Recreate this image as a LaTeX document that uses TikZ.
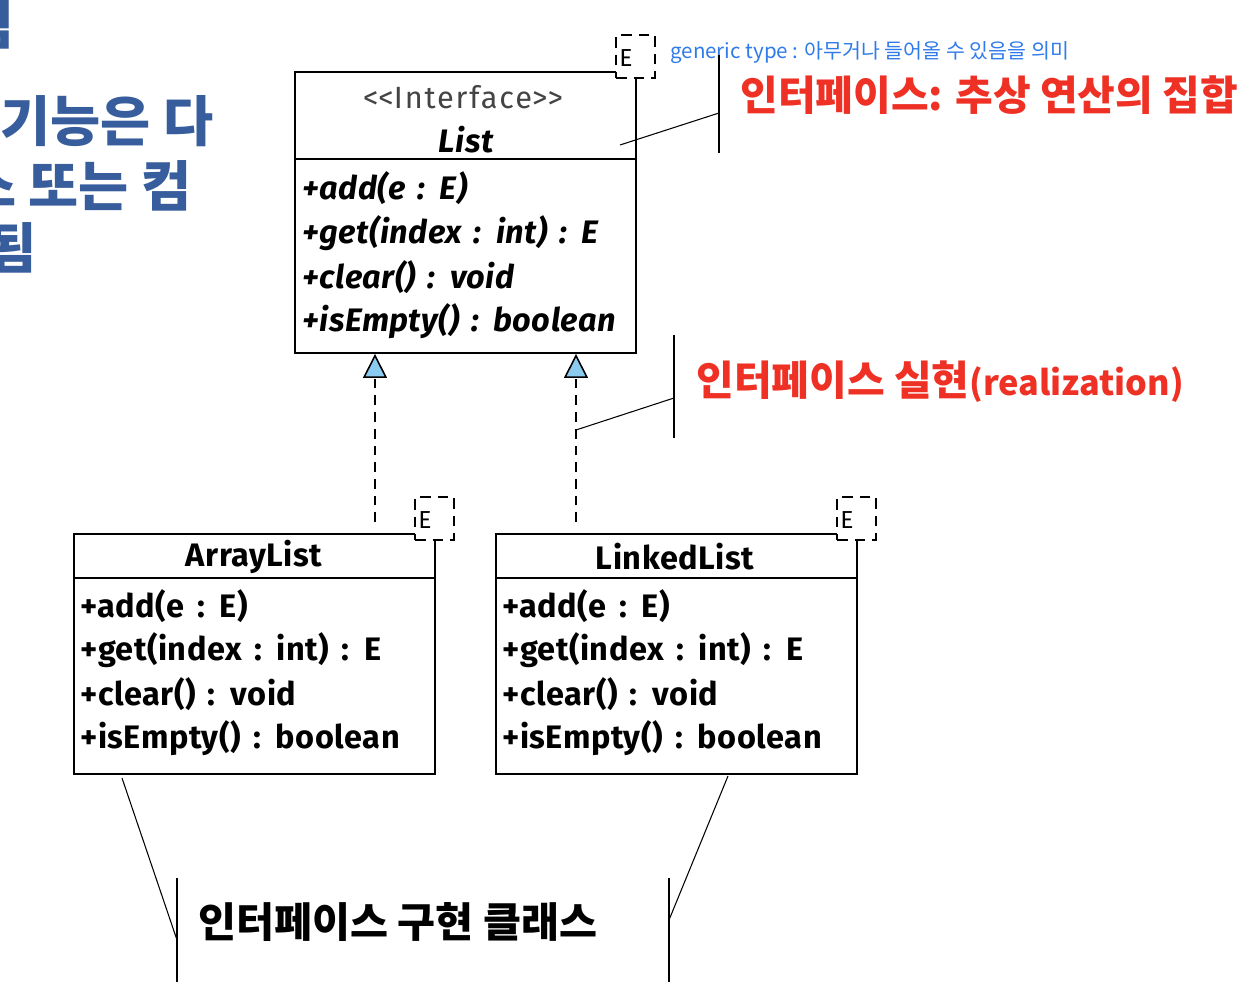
\documentclass[tikz,border=0pt]{standalone}
\usepackage{fontspec}
\setmainfont{Fira Sans}
\newfontfamily\kr{Noto Sans CJK KR}
\newfontfamily\umlfont{Fira Sans}[LetterSpace=1.5, WordSpace=1.5]
\usetikzlibrary{arrows.meta,calc}
\definecolor{redc}{HTML}{EE3124}
\definecolor{genblue}{HTML}{2F7BEA}
\definecolor{slideblue}{HTML}{385D9C}
\definecolor{tipblue}{HTML}{8CCBF0}
\definecolor{stereo}{HTML}{444444}
\tikzset{
  box/.style={draw=black, line width=1.1pt, inner sep=0pt},
  ebox/.style={draw=black, fill=white, line width=1.1pt, dash pattern=on 6pt off 4pt,
     minimum width=0.78cm, minimum height=0.86cm, inner sep=0pt},
  eletter/.style={anchor=west, inner sep=0pt, font=\fontsize{14}{15}\selectfont},
  member/.style={anchor=west, inner sep=0pt, font=\umlfont\fontsize{18.5}{20}\selectfont\bfseries},
  imember/.style={anchor=west, inner sep=0pt, font=\umlfont\fontsize{18.5}{20}\selectfont\bfseries\itshape},
  title/.style={inner sep=0pt, font=\umlfont\fontsize{18.5}{20}\selectfont\bfseries},
  realize/.style={draw=black, line width=0.7pt, dash pattern=on 5.5pt off 4pt,
     -{Triangle[length=0.48cm, width=0.48cm, fill=tipblue, line width=0.9pt]}},
  callout/.style={draw=black, line width=0.6pt},
  redtext/.style={anchor=west, inner sep=0pt, text=redc, font=\kr\bfseries\fontsize{23.3}{26}\selectfont},
  blktext/.style={anchor=west, inner sep=0pt, text=black, font=\kr\bfseries\fontsize{23.5}{26}\selectfont},
  gentext/.style={anchor=west, inner sep=0pt, text=genblue, font=\kr\fontsize{11.7}{14}\selectfont},
  slidetext/.style={anchor=east, inner sep=0pt, text=slideblue, font=\kr\bfseries\fontsize{31}{34}\selectfont},
}
\begin{document}
\begin{tikzpicture}[x=0.02cm,y=-0.02cm]
\useasboundingbox (0,0) rectangle (1252,1000);
\fill[white] (0,0) rectangle (1252,1000);

% slide text (cut off at left)
\node[slidetext] (s1) at (15,24) {림};
\node[slidetext] (s2) at (214,121) {기능은 다};
\node[slidetext] (s3) at (192,186) {스 또는 컴};
\node[slidetext] (s4) at (37,248) {됨};

% List interface
\node[box, minimum width=6.82cm, minimum height=1.74cm] (lH) at (465.5,115.5) {};
\node[box, minimum width=6.82cm, minimum height=3.88cm] (lB) at (465.5,256) {};
\node[inner sep=0pt, text=stereo, font=\fontsize{17.5}{19}\selectfont\addfontfeatures{LetterSpace=6}] (lst) at (463,97) {\mbox{<}\mbox{<}Interface\mbox{>}\mbox{>}};
\node[title, font=\umlfont\fontsize{18.5}{20}\selectfont\bfseries\itshape] (lname) at (466,140) {List};
\node[imember] (lm1) at (302,188) {+add(e : E)};
\node[imember] (lm2) at (302,233) {+get(index : int) : E};
\node[imember] (lm3) at (302,277) {+clear() : void};
\node[imember] (lm4) at (302,321) {+isEmpty() : boolean};
\node[ebox] (lE) at (635.5,56.5) {};
\node[eletter] (lEt) at (619,58) {E};

% ArrayList
\node[box, minimum width=7.22cm, minimum height=0.88cm] (aH) at (254.5,556) {};
\node[box, minimum width=7.22cm, minimum height=3.92cm] (aB) at (254.5,676) {};
\node[title] (aname) at (254,557) {ArrayList};
\node[member] (am1) at (80,606) {+add(e : E)};
\node[member] (am2) at (80,650) {+get(index : int) : E};
\node[member] (am3) at (80,694) {+clear() : void};
\node[member] (am4) at (80,738) {+isEmpty() : boolean};
\node[ebox] (aE) at (434.5,518.5) {};
\node[eletter] (aEt) at (418,520) {E};

% LinkedList
\node[box, minimum width=7.22cm, minimum height=0.88cm] (kH) at (676.5,556) {};
\node[box, minimum width=7.22cm, minimum height=3.92cm] (kB) at (676.5,676) {};
\node[title] (kname) at (675,557) {LinkedList};
\node[member] (km1) at (502,606) {+add(e : E)};
\node[member] (km2) at (502,650) {+get(index : int) : E};
\node[member] (km3) at (502,694) {+clear() : void};
\node[member] (km4) at (502,738) {+isEmpty() : boolean};
\node[ebox] (kE) at (856.5,518.5) {};
\node[eletter] (kEt) at (840,520) {E};

% realizations
\coordinate (r1) at (375,522);
\coordinate (r2) at (576,522);
\draw[realize] (r1) -- (r1 |- lB.south);
\draw[realize] (r2) -- (r2 |- lB.south);

% callout texts
\node[gentext] (gen) at (670,53) {generic type : 아무거나 들어올 수 있음을 의미};
\node[redtext] (ifc) at (740,95) {인터페이스: 추상 연산의 집합};
\node[redtext] (rel) at (696,382) {인터페이스 실현{\fontsize{19.5}{24}\selectfont(realization)}};
\node[blktext] (impl) at (198,922) {인터페이스 구현 클래스};

% callout lines
\coordinate (c1a) at (719,55); \coordinate (c1b) at (719,153);
\coordinate (c1m) at (719,113); \coordinate (c1t) at (620,145);
\draw[callout] (c1a) -- (c1b);
\draw[callout] (c1m) -- (c1t);
\coordinate (c2a) at (674,335); \coordinate (c2b) at (674,438);
\coordinate (c2m) at (674,398); \coordinate (c2t) at (576,430);
\draw[callout] (c2a) -- (c2b);
\draw[callout] (c2m) -- (c2t);
\coordinate (c3a) at (177,878); \coordinate (c3b) at (177,982);
\coordinate (c3m) at (177,940); \coordinate (c3t) at (122,778);
\draw[callout] (c3a) -- (c3b);
\draw[callout] (c3m) -- (c3t);
\coordinate (c4a) at (669,878); \coordinate (c4b) at (669,982);
\coordinate (c4m) at (669,920); \coordinate (c4t) at (728,776);
\draw[callout] (c4a) -- (c4b);
\draw[callout] (c4m) -- (c4t);
\end{tikzpicture}
\end{document}
